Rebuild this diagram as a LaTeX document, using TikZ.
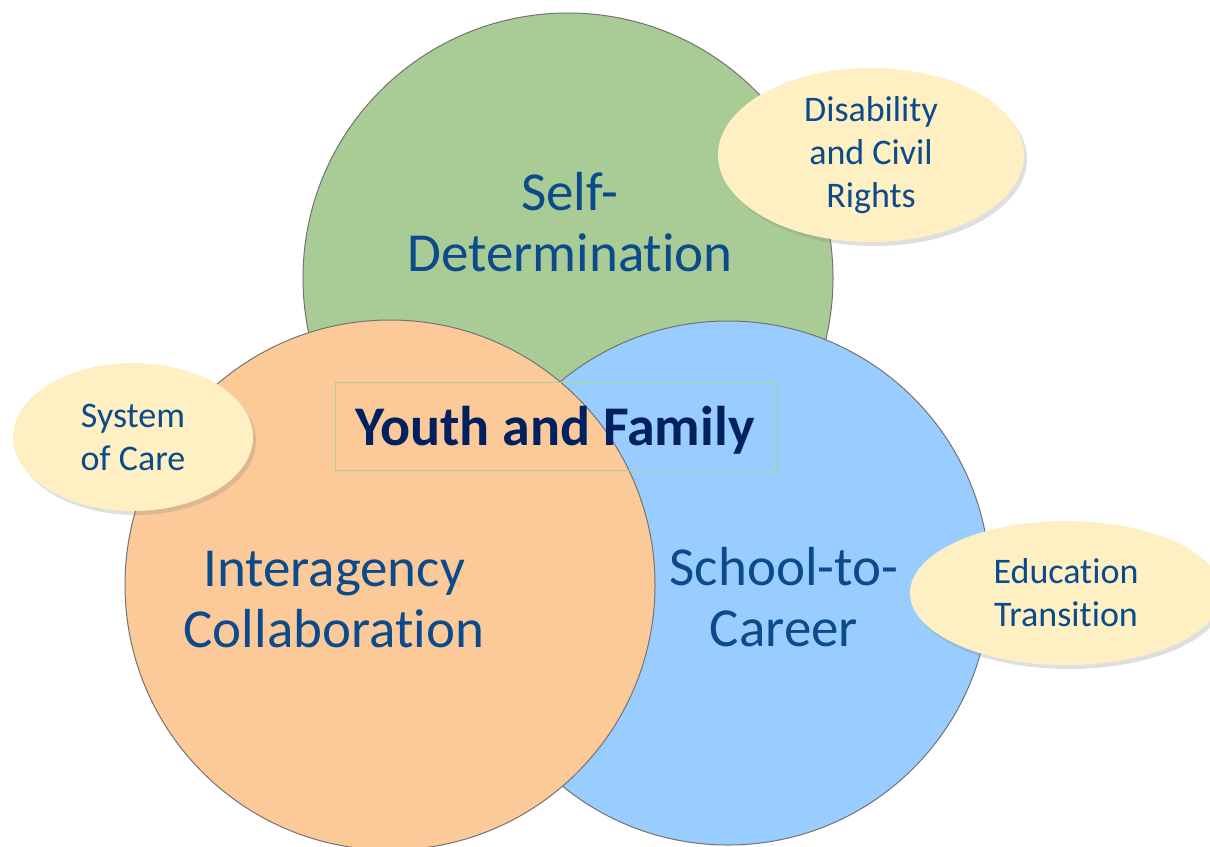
\documentclass[tikz,border=0pt]{standalone}
\usepackage{fontspec}
\setmainfont{Carlito}[Ligatures=NoCommon]
\usetikzlibrary{shapes.geometric,shadows}

\definecolor{selfgreen}{HTML}{A9CB96}
\definecolor{careerblue}{HTML}{99CCFF}
\definecolor{agencyorange}{HTML}{FBCA98}
\definecolor{topicfill}{HTML}{FFF0C4}
\definecolor{textblue}{HTML}{0B4A8B}
\definecolor{titlenavy}{HTML}{002060}
\definecolor{boxgreen}{HTML}{A9D18E}

\begin{document}
\begin{tikzpicture}[x=1pt,y=-1pt,
	ring/.style={circle,draw=black!55,line width=1pt,minimum size=530pt,inner sep=0pt},
	topic/.style={ellipse,fill=topicfill,inner sep=0pt,
		drop shadow={opacity=0.25,shadow xshift=3pt,shadow yshift=-4pt}},
	bigtext/.style={text=textblue,align=center,font=\fontsize{55}{61}\selectfont},
	smalltext/.style={text=textblue,align=center,font=\fontsize{36}{43}\selectfont}]

\useasboundingbox (0,0) rectangle (1210,846);
\clip (0,0) rectangle (1210,846);

% the three circles
\node[ring,fill=selfgreen] (self) at (568,278) {};
\node[ring,fill=careerblue,minimum size=524pt] (career) at (728,583) {};
\node[ring,fill=agencyorange] (agency) at (390,585) {};

\node[bigtext] (selflabel) at (570,222) {Self-\\Determination};
\node[bigtext] (agencylabel) at (334,600) {Interagency\\Collaboration};
\node[bigtext] (careerlabel) at (784,597) {School-to-\\Career};

% centre box
\node[draw=boxgreen,line width=1pt,minimum width=442pt,minimum height=88pt,
	text=titlenavy,font=\fontsize{56}{65}\selectfont\bfseries] (youth) at (556,426) {};
\node[text=titlenavy,font=\fontsize{56}{65}\selectfont\bfseries] (youthlabel) at (555,430) {Youth and Family};

% the outer ellipses
\foreach \name/\pos/\w/\h/\txt in {
	rights/{(871,155)}/306/174/{Disability\\and Civil\\Rights},
	care/{(133,437)}/240/148/{System\\of Care},
	transition/{(1066,593)}/312/144/{Education\\Transition}} {
	\node[topic,minimum width=\w pt,minimum height=\h pt] (\name) at \pos {};
	\node[smalltext] (\name label) at (\name) {\txt};
}

\end{tikzpicture}
\end{document}
